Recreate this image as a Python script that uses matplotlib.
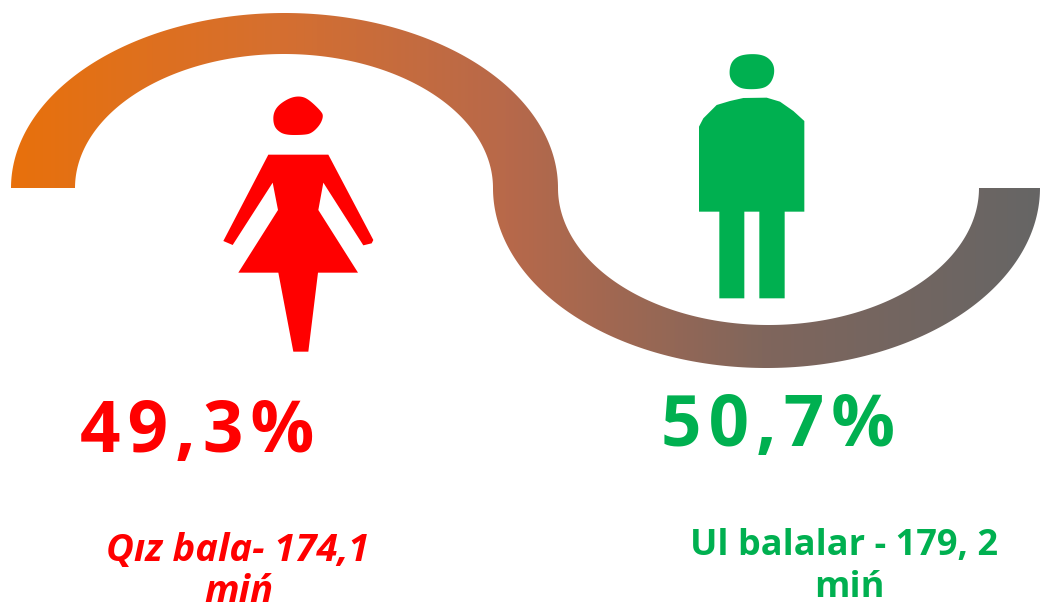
import numpy as np
import matplotlib
matplotlib.use("Agg")
import matplotlib.pyplot as plt
from matplotlib.colors import LinearSegmentedColormap
from matplotlib.patches import Polygon

plt.rcParams['font.family'] = ['Open Sans', 'DejaVu Sans']

# data
percents = ["49,3%", "50,7%"]
line_one = ["Qız bala- 174,1", "Ul balalar - 179, 2"]
line_two = ["miń", "miń"]
colors = ["#FF0000", "#00B050"]
styles = ["italic", "normal"]

# figure outlines, traced in zoomed pixels
woman_head = [(190,85),(205,60),(240,38),(270,33),(295,42),(335,80),(340,95),(330,120),
              (305,145),(280,150),(225,150),(200,135),(190,115)]
woman_body = [(175,209),(355,209),(490,465),(485,475),(460,481),(340,293),(325,375),(444,563),
              (324,563),(295,800),(250,800),(205,563),(85,563),(204,375),(188,293),(68,480),(40,468)]
man_head = [(148,75),(155,50),(175,33),(205,27),(240,28),(265,38),(282,60),(283,90),
            (270,118),(245,132),(190,133),(165,120),(150,100)]
man_body = [(57,245),(70,220),(95,195),(110,180),(150,168),(190,159),(260,158),(300,170),
            (340,198),(373,228),(373,500),(314,500),(314,760),(238,760),(238,500),(193,500),
            (193,760),(118,760),(118,500),(57,500)]

W, H = 1040, 605
fig = plt.figure(figsize=(W / 100, H / 100), dpi=100, facecolor="white")
ax = fig.add_axes([0, 0, 1, 1])
ax.set_xlim(0, W)
ax.set_ylim(H, 0)
ax.axis("off")


def arc(cx, cy, rx, ry, t0, t1):
    t = np.radians(np.linspace(t0, t1, 200))
    return np.column_stack([cx + rx * np.cos(t), cy + ry * np.sin(t)])


def smooth(points, rounds=3):
    # corner cutting, rounds off the traced head outlines
    pts = np.array(points, dtype=float)
    for _ in range(rounds):
        nxt = np.roll(pts, -1, axis=0)
        pts = np.column_stack([0.75 * pts + 0.25 * nxt, 0.25 * pts + 0.75 * nxt]).reshape(-1, 2)
    return pts


# S shaped band, top half then bottom half
band = np.vstack([
    arc(284.5, 188, 273.5, 175, 180, 360),
    arc(768.5, 188, 210.5, 137, 180, 0),
    arc(766.5, 188, 273.5, 180, 0, 180),
    arc(284, 188, 209, 134, 0, -180),
])
clip = Polygon(band, closed=True, transform=ax.transData, facecolor="none", edgecolor="none")
ax.add_patch(clip)
stops = [(0.0, "#E8710C"), (0.26, "#D56F30"), (0.48, "#B8694A"), (0.73, "#80665C"), (1.0, "#666565")]
cmap = LinearSegmentedColormap.from_list("band", stops)
im = ax.imshow(np.linspace(0, 1, 512)[None, :], cmap=cmap, extent=[11, 1040, H, 0], aspect="auto")
im.set_clip_path(clip)
ax.set_xlim(0, W)
ax.set_ylim(H, 0)


def shape(points, x0, y0, color):
    xy = np.array(points) / 3 + [x0, y0]
    ax.add_patch(Polygon(xy, closed=True, facecolor=color, edgecolor="none"))


shape(smooth(woman_head), 210, 85, colors[0])
shape(woman_body, 210, 85, colors[0])
shape(smooth(man_head), 680, 45, colors[1])
shape(man_body, 680, 45, colors[1])

# big percentages, hair spaces stand in for letter spacing
for i, (x, y) in enumerate([(197, 452), (778, 446)]):
    ax.text(x, y, "\u200a".join(percents[i]), color=colors[i], fontsize=51, fontweight="bold",
            ha="center", va="baseline")

sizes = [27.5, 26]
for i, (x1, x2, y1, y2) in enumerate([(238, 239, 561, 602), (844, 849, 555, 597)]):
    ax.text(x1, y1, line_one[i], color=colors[i], fontsize=sizes[i], fontweight="bold", style=styles[i],
            ha="center", va="baseline")
    ax.text(x2, y2, line_two[i], color=colors[i], fontsize=sizes[i], fontweight="bold", style=styles[i],
            ha="center", va="baseline")

fig.savefig("out.png", dpi=100)
